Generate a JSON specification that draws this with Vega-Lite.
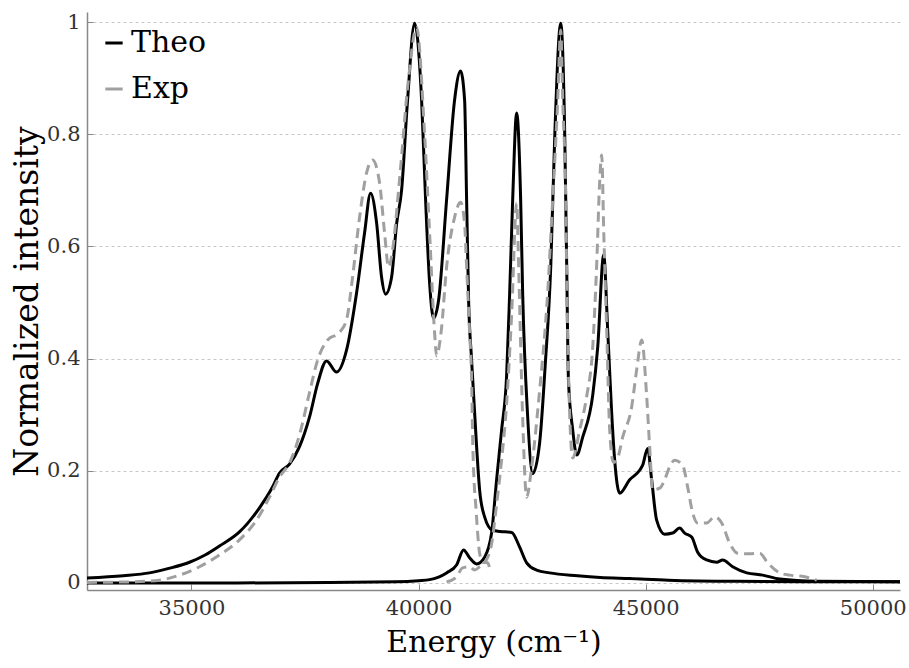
{
  "$schema": "https://vega.github.io/schema/vega-lite/v6.json",
  "width": 813,
  "height": 578,
  "autosize": {"type": "none"},
  "padding": {"left": 87, "top": 12, "right": 9, "bottom": 78},
  "background": "white",
  "config": {
    "view": {"stroke": null},
    "font": "DejaVu Serif"
  },
  "data": {
    "values": [
      {"energy": 32700, "intensity": 0.009, "series": "Theo", "band": "A"},
      {"energy": 33500, "intensity": 0.013, "series": "Theo", "band": "A"},
      {"energy": 34075, "intensity": 0.018, "series": "Theo", "band": "A"},
      {"energy": 34500, "intensity": 0.026, "series": "Theo", "band": "A"},
      {"energy": 34956, "intensity": 0.037, "series": "Theo", "band": "A"},
      {"energy": 35300, "intensity": 0.050, "series": "Theo", "band": "A"},
      {"energy": 35617, "intensity": 0.066, "series": "Theo", "band": "A"},
      {"energy": 36057, "intensity": 0.091, "series": "Theo", "band": "A"},
      {"energy": 36498, "intensity": 0.134, "series": "Theo", "band": "A"},
      {"energy": 36784, "intensity": 0.171, "series": "Theo", "band": "A"},
      {"energy": 36939, "intensity": 0.196, "series": "Theo", "band": "A"},
      {"energy": 37159, "intensity": 0.212, "series": "Theo", "band": "A"},
      {"energy": 37379, "intensity": 0.243, "series": "Theo", "band": "A"},
      {"energy": 37600, "intensity": 0.296, "series": "Theo", "band": "A"},
      {"energy": 37776, "intensity": 0.355, "series": "Theo", "band": "A"},
      {"energy": 37974, "intensity": 0.396, "series": "Theo", "band": "A"},
      {"energy": 38194, "intensity": 0.376, "series": "Theo", "band": "A"},
      {"energy": 38414, "intensity": 0.415, "series": "Theo", "band": "A"},
      {"energy": 38635, "intensity": 0.517, "series": "Theo", "band": "A"},
      {"energy": 38811, "intensity": 0.624, "series": "Theo", "band": "A"},
      {"energy": 38943, "intensity": 0.695, "series": "Theo", "band": "A"},
      {"energy": 39076, "intensity": 0.642, "series": "Theo", "band": "A"},
      {"energy": 39186, "intensity": 0.545, "series": "Theo", "band": "A"},
      {"energy": 39274, "intensity": 0.515, "series": "Theo", "band": "A"},
      {"energy": 39406, "intensity": 0.545, "series": "Theo", "band": "A"},
      {"energy": 39516, "intensity": 0.640, "series": "Theo", "band": "A"},
      {"energy": 39626, "intensity": 0.700, "series": "Theo", "band": "A"},
      {"energy": 39758, "intensity": 0.861, "series": "Theo", "band": "A"},
      {"energy": 39913, "intensity": 0.998, "series": "Theo", "band": "A"},
      {"energy": 40067, "intensity": 0.861, "series": "Theo", "band": "A"},
      {"energy": 40155, "intensity": 0.683, "series": "Theo", "band": "A"},
      {"energy": 40243, "intensity": 0.535, "series": "Theo", "band": "A"},
      {"energy": 40331, "intensity": 0.472, "series": "Theo", "band": "A"},
      {"energy": 40441, "intensity": 0.504, "series": "Theo", "band": "A"},
      {"energy": 40617, "intensity": 0.683, "series": "Theo", "band": "A"},
      {"energy": 40793, "intensity": 0.861, "series": "Theo", "band": "A"},
      {"energy": 40925, "intensity": 0.913, "series": "Theo", "band": "A"},
      {"energy": 41014, "intensity": 0.861, "series": "Theo", "band": "A"},
      {"energy": 41058, "intensity": 0.683, "series": "Theo", "band": "A"},
      {"energy": 41102, "intensity": 0.504, "series": "Theo", "band": "A"},
      {"energy": 41168, "intensity": 0.397, "series": "Theo", "band": "A"},
      {"energy": 41278, "intensity": 0.243, "series": "Theo", "band": "A"},
      {"energy": 41344, "intensity": 0.166, "series": "Theo", "band": "A"},
      {"energy": 41454, "intensity": 0.118, "series": "Theo", "band": "A"},
      {"energy": 41630, "intensity": 0.094, "series": "Theo", "band": "A"},
      {"energy": 41800, "intensity": 0.092, "series": "Theo", "band": "A"},
      {"energy": 42050, "intensity": 0.090, "series": "Theo", "band": "A"},
      {"energy": 42226, "intensity": 0.064, "series": "Theo", "band": "A"},
      {"energy": 42380, "intensity": 0.036, "series": "Theo", "band": "A"},
      {"energy": 42600, "intensity": 0.023, "series": "Theo", "band": "A"},
      {"energy": 42886, "intensity": 0.018, "series": "Theo", "band": "A"},
      {"energy": 43500, "intensity": 0.013, "series": "Theo", "band": "A"},
      {"energy": 44000, "intensity": 0.010, "series": "Theo", "band": "A"},
      {"energy": 44650, "intensity": 0.008, "series": "Theo", "band": "A"},
      {"energy": 45500, "intensity": 0.005, "series": "Theo", "band": "A"},
      {"energy": 47000, "intensity": 0.003, "series": "Theo", "band": "A"},
      {"energy": 50600, "intensity": 0.002, "series": "Theo", "band": "A"},

      {"energy": 32700, "intensity": 0.000, "series": "Theo", "band": "B"},
      {"energy": 36000, "intensity": 0.000, "series": "Theo", "band": "B"},
      {"energy": 38000, "intensity": 0.001, "series": "Theo", "band": "B"},
      {"energy": 39500, "intensity": 0.002, "series": "Theo", "band": "B"},
      {"energy": 40000, "intensity": 0.004, "series": "Theo", "band": "B"},
      {"energy": 40243, "intensity": 0.006, "series": "Theo", "band": "B"},
      {"energy": 40617, "intensity": 0.018, "series": "Theo", "band": "B"},
      {"energy": 40837, "intensity": 0.032, "series": "Theo", "band": "B"},
      {"energy": 40991, "intensity": 0.059, "series": "Theo", "band": "B"},
      {"energy": 41124, "intensity": 0.045, "series": "Theo", "band": "B"},
      {"energy": 41278, "intensity": 0.034, "series": "Theo", "band": "B"},
      {"energy": 41454, "intensity": 0.046, "series": "Theo", "band": "B"},
      {"energy": 41608, "intensity": 0.089, "series": "Theo", "band": "B"},
      {"energy": 41718, "intensity": 0.184, "series": "Theo", "band": "B"},
      {"energy": 41829, "intensity": 0.273, "series": "Theo", "band": "B"},
      {"energy": 41939, "intensity": 0.370, "series": "Theo", "band": "B"},
      {"energy": 42006, "intensity": 0.517, "series": "Theo", "band": "B"},
      {"energy": 42072, "intensity": 0.683, "series": "Theo", "band": "B"},
      {"energy": 42160, "intensity": 0.838, "series": "Theo", "band": "B"},
      {"energy": 42248, "intensity": 0.683, "series": "Theo", "band": "B"},
      {"energy": 42292, "intensity": 0.517, "series": "Theo", "band": "B"},
      {"energy": 42400, "intensity": 0.300, "series": "Theo", "band": "B"},
      {"energy": 42512, "intensity": 0.195, "series": "Theo", "band": "B"},
      {"energy": 42666, "intensity": 0.250, "series": "Theo", "band": "B"},
      {"energy": 42790, "intensity": 0.390, "series": "Theo", "band": "B"},
      {"energy": 42910, "intensity": 0.563, "series": "Theo", "band": "B"},
      {"energy": 43000, "intensity": 0.800, "series": "Theo", "band": "B"},
      {"energy": 43130, "intensity": 0.998, "series": "Theo", "band": "B"},
      {"energy": 43218, "intensity": 0.800, "series": "Theo", "band": "B"},
      {"energy": 43262, "intensity": 0.563, "series": "Theo", "band": "B"},
      {"energy": 43300, "intensity": 0.362, "series": "Theo", "band": "B"},
      {"energy": 43394, "intensity": 0.273, "series": "Theo", "band": "B"},
      {"energy": 43482, "intensity": 0.228, "series": "Theo", "band": "B"},
      {"energy": 43614, "intensity": 0.260, "series": "Theo", "band": "B"},
      {"energy": 43835, "intensity": 0.335, "series": "Theo", "band": "B"},
      {"energy": 43945, "intensity": 0.421, "series": "Theo", "band": "B"},
      {"energy": 44076, "intensity": 0.585, "series": "Theo", "band": "B"},
      {"energy": 44164, "intensity": 0.451, "series": "Theo", "band": "B"},
      {"energy": 44252, "intensity": 0.303, "series": "Theo", "band": "B"},
      {"energy": 44318, "intensity": 0.219, "series": "Theo", "band": "B"},
      {"energy": 44428, "intensity": 0.160, "series": "Theo", "band": "B"},
      {"energy": 44648, "intensity": 0.184, "series": "Theo", "band": "B"},
      {"energy": 44868, "intensity": 0.201, "series": "Theo", "band": "B"},
      {"energy": 44934, "intensity": 0.210, "series": "Theo", "band": "B"},
      {"energy": 45044, "intensity": 0.240, "series": "Theo", "band": "B"},
      {"energy": 45132, "intensity": 0.184, "series": "Theo", "band": "B"},
      {"energy": 45242, "intensity": 0.112, "series": "Theo", "band": "B"},
      {"energy": 45418, "intensity": 0.087, "series": "Theo", "band": "B"},
      {"energy": 45594, "intensity": 0.089, "series": "Theo", "band": "B"},
      {"energy": 45748, "intensity": 0.098, "series": "Theo", "band": "B"},
      {"energy": 45859, "intensity": 0.089, "series": "Theo", "band": "B"},
      {"energy": 46013, "intensity": 0.082, "series": "Theo", "band": "B"},
      {"energy": 46145, "intensity": 0.055, "series": "Theo", "band": "B"},
      {"energy": 46343, "intensity": 0.041, "series": "Theo", "band": "B"},
      {"energy": 46564, "intensity": 0.037, "series": "Theo", "band": "B"},
      {"energy": 46696, "intensity": 0.041, "series": "Theo", "band": "B"},
      {"energy": 46916, "intensity": 0.029, "series": "Theo", "band": "B"},
      {"energy": 47225, "intensity": 0.018, "series": "Theo", "band": "B"},
      {"energy": 47577, "intensity": 0.014, "series": "Theo", "band": "B"},
      {"energy": 47952, "intensity": 0.007, "series": "Theo", "band": "B"},
      {"energy": 48767, "intensity": 0.003, "series": "Theo", "band": "B"},
      {"energy": 50600, "intensity": 0.002, "series": "Theo", "band": "B"},

      {"energy": 32700, "intensity": 0.001, "series": "Exp", "band": "A"},
      {"energy": 33634, "intensity": 0.002, "series": "Exp", "band": "A"},
      {"energy": 34295, "intensity": 0.005, "series": "Exp", "band": "A"},
      {"energy": 34736, "intensity": 0.014, "series": "Exp", "band": "A"},
      {"energy": 35176, "intensity": 0.029, "series": "Exp", "band": "A"},
      {"energy": 35617, "intensity": 0.050, "series": "Exp", "band": "A"},
      {"energy": 36057, "intensity": 0.077, "series": "Exp", "band": "A"},
      {"energy": 36432, "intensity": 0.112, "series": "Exp", "band": "A"},
      {"energy": 36718, "intensity": 0.153, "series": "Exp", "band": "A"},
      {"energy": 36939, "intensity": 0.189, "series": "Exp", "band": "A"},
      {"energy": 37159, "intensity": 0.214, "series": "Exp", "band": "A"},
      {"energy": 37379, "intensity": 0.264, "series": "Exp", "band": "A"},
      {"energy": 37600, "intensity": 0.340, "series": "Exp", "band": "A"},
      {"energy": 37776, "intensity": 0.397, "series": "Exp", "band": "A"},
      {"energy": 37996, "intensity": 0.433, "series": "Exp", "band": "A"},
      {"energy": 38260, "intensity": 0.447, "series": "Exp", "band": "A"},
      {"energy": 38414, "intensity": 0.469, "series": "Exp", "band": "A"},
      {"energy": 38547, "intensity": 0.545, "series": "Exp", "band": "A"},
      {"energy": 38701, "intensity": 0.652, "series": "Exp", "band": "A"},
      {"energy": 38855, "intensity": 0.731, "series": "Exp", "band": "A"},
      {"energy": 38988, "intensity": 0.754, "series": "Exp", "band": "A"},
      {"energy": 39142, "intensity": 0.713, "series": "Exp", "band": "A"},
      {"energy": 39252, "intensity": 0.624, "series": "Exp", "band": "A"},
      {"energy": 39340, "intensity": 0.563, "series": "Exp", "band": "A"},
      {"energy": 39428, "intensity": 0.594, "series": "Exp", "band": "A"},
      {"energy": 39582, "intensity": 0.720, "series": "Exp", "band": "A"},
      {"energy": 39780, "intensity": 0.900, "series": "Exp", "band": "A"},
      {"energy": 39956, "intensity": 0.991, "series": "Exp", "band": "A"},
      {"energy": 40133, "intensity": 0.800, "series": "Exp", "band": "A"},
      {"energy": 40243, "intensity": 0.624, "series": "Exp", "band": "A"},
      {"energy": 40353, "intensity": 0.446, "series": "Exp", "band": "A"},
      {"energy": 40397, "intensity": 0.405, "series": "Exp", "band": "A"},
      {"energy": 40500, "intensity": 0.450, "series": "Exp", "band": "A"},
      {"energy": 40617, "intensity": 0.563, "series": "Exp", "band": "A"},
      {"energy": 40793, "intensity": 0.652, "series": "Exp", "band": "A"},
      {"energy": 40925, "intensity": 0.679, "series": "Exp", "band": "A"},
      {"energy": 41014, "intensity": 0.640, "series": "Exp", "band": "A"},
      {"energy": 41058, "intensity": 0.563, "series": "Exp", "band": "A"},
      {"energy": 41124, "intensity": 0.446, "series": "Exp", "band": "A"},
      {"energy": 41168, "intensity": 0.362, "series": "Exp", "band": "A"},
      {"energy": 41195, "intensity": 0.243, "series": "Exp", "band": "A"},
      {"energy": 41271, "intensity": 0.125, "series": "Exp", "band": "A"},
      {"energy": 41344, "intensity": 0.053, "series": "Exp", "band": "A"},
      {"energy": 41410, "intensity": 0.037, "series": "Exp", "band": "A"},
      {"energy": 41520, "intensity": 0.036, "series": "Exp", "band": "A"},
      {"energy": 41586, "intensity": 0.018, "series": "Exp", "band": "A"},

      {"energy": 40617, "intensity": 0.002, "series": "Exp", "band": "B"},
      {"energy": 40837, "intensity": 0.011, "series": "Exp", "band": "B"},
      {"energy": 40969, "intensity": 0.027, "series": "Exp", "band": "B"},
      {"energy": 41124, "intensity": 0.029, "series": "Exp", "band": "B"},
      {"energy": 41234, "intensity": 0.023, "series": "Exp", "band": "B"},
      {"energy": 41344, "intensity": 0.029, "series": "Exp", "band": "B"},
      {"energy": 41454, "intensity": 0.036, "series": "Exp", "band": "B"},
      {"energy": 41608, "intensity": 0.070, "series": "Exp", "band": "B"},
      {"energy": 41718, "intensity": 0.140, "series": "Exp", "band": "B"},
      {"energy": 41829, "intensity": 0.220, "series": "Exp", "band": "B"},
      {"energy": 41939, "intensity": 0.320, "series": "Exp", "band": "B"},
      {"energy": 42050, "intensity": 0.480, "series": "Exp", "band": "B"},
      {"energy": 42160, "intensity": 0.677, "series": "Exp", "band": "B"},
      {"energy": 42204, "intensity": 0.563, "series": "Exp", "band": "B"},
      {"energy": 42290, "intensity": 0.300, "series": "Exp", "band": "B"},
      {"energy": 42380, "intensity": 0.153, "series": "Exp", "band": "B"},
      {"energy": 42480, "intensity": 0.200, "series": "Exp", "band": "B"},
      {"energy": 42650, "intensity": 0.330, "series": "Exp", "band": "B"},
      {"energy": 42842, "intensity": 0.517, "series": "Exp", "band": "B"},
      {"energy": 42953, "intensity": 0.683, "series": "Exp", "band": "B"},
      {"energy": 43064, "intensity": 0.861, "series": "Exp", "band": "B"},
      {"energy": 43130, "intensity": 0.986, "series": "Exp", "band": "B"},
      {"energy": 43174, "intensity": 0.861, "series": "Exp", "band": "B"},
      {"energy": 43240, "intensity": 0.683, "series": "Exp", "band": "B"},
      {"energy": 43267, "intensity": 0.517, "series": "Exp", "band": "B"},
      {"energy": 43328, "intensity": 0.300, "series": "Exp", "band": "B"},
      {"energy": 43394, "intensity": 0.223, "series": "Exp", "band": "B"},
      {"energy": 43548, "intensity": 0.273, "series": "Exp", "band": "B"},
      {"energy": 43700, "intensity": 0.332, "series": "Exp", "band": "B"},
      {"energy": 43835, "intensity": 0.421, "series": "Exp", "band": "B"},
      {"energy": 43923, "intensity": 0.570, "series": "Exp", "band": "B"},
      {"energy": 43989, "intensity": 0.718, "series": "Exp", "band": "B"},
      {"energy": 44033, "intensity": 0.763, "series": "Exp", "band": "B"},
      {"energy": 44076, "intensity": 0.630, "series": "Exp", "band": "B"},
      {"energy": 44142, "intensity": 0.451, "series": "Exp", "band": "B"},
      {"energy": 44208, "intensity": 0.273, "series": "Exp", "band": "B"},
      {"energy": 44290, "intensity": 0.215, "series": "Exp", "band": "B"},
      {"energy": 44384, "intensity": 0.223, "series": "Exp", "band": "B"},
      {"energy": 44494, "intensity": 0.260, "series": "Exp", "band": "B"},
      {"energy": 44692, "intensity": 0.314, "series": "Exp", "band": "B"},
      {"energy": 44802, "intensity": 0.380, "series": "Exp", "band": "B"},
      {"energy": 44913, "intensity": 0.433, "series": "Exp", "band": "B"},
      {"energy": 45023, "intensity": 0.332, "series": "Exp", "band": "B"},
      {"energy": 45089, "intensity": 0.242, "series": "Exp", "band": "B"},
      {"energy": 45154, "intensity": 0.166, "series": "Exp", "band": "B"},
      {"energy": 45308, "intensity": 0.169, "series": "Exp", "band": "B"},
      {"energy": 45418, "intensity": 0.184, "series": "Exp", "band": "B"},
      {"energy": 45528, "intensity": 0.207, "series": "Exp", "band": "B"},
      {"energy": 45638, "intensity": 0.219, "series": "Exp", "band": "B"},
      {"energy": 45815, "intensity": 0.210, "series": "Exp", "band": "B"},
      {"energy": 45925, "intensity": 0.171, "series": "Exp", "band": "B"},
      {"energy": 46035, "intensity": 0.125, "series": "Exp", "band": "B"},
      {"energy": 46145, "intensity": 0.107, "series": "Exp", "band": "B"},
      {"energy": 46343, "intensity": 0.107, "series": "Exp", "band": "B"},
      {"energy": 46520, "intensity": 0.118, "series": "Exp", "band": "B"},
      {"energy": 46674, "intensity": 0.107, "series": "Exp", "band": "B"},
      {"energy": 46850, "intensity": 0.071, "series": "Exp", "band": "B"},
      {"energy": 47027, "intensity": 0.053, "series": "Exp", "band": "B"},
      {"energy": 47291, "intensity": 0.052, "series": "Exp", "band": "B"},
      {"energy": 47511, "intensity": 0.053, "series": "Exp", "band": "B"},
      {"energy": 47688, "intensity": 0.036, "series": "Exp", "band": "B"},
      {"energy": 47952, "intensity": 0.018, "series": "Exp", "band": "B"},
      {"energy": 48172, "intensity": 0.014, "series": "Exp", "band": "B"},
      {"energy": 48503, "intensity": 0.011, "series": "Exp", "band": "B"},
      {"energy": 48767, "intensity": 0.005, "series": "Exp", "band": "B"}
    ]
  },
  "encoding": {
    "x": {
      "field": "energy",
      "type": "quantitative",
      "scale": {"domain": [32700, 50600], "nice": false, "zero": false},
      "axis": {
        "title": "Energy (cm⁻¹)",
        "values": [35000, 40000, 45000, 50000],
        "format": "d",
        "grid": false,
        "domainColor": "#888888",
        "domainWidth": 1.5,
        "tickColor": "#888888",
        "tickSize": -6,
        "tickWidth": 1,
        "labelFont": "DejaVu Serif",
        "labelFontSize": 21,
        "labelColor": "#333333",
        "labelPadding": 13,
        "titleFont": "DejaVu Serif",
        "titleFontSize": 30,
        "titleFontWeight": "normal",
        "titleColor": "#000000",
        "titlePadding": 9
      }
    },
    "y": {
      "field": "intensity",
      "type": "quantitative",
      "scale": {"domain": [-0.0125, 1.018], "nice": false, "zero": false},
      "axis": {
        "title": "Normalized intensity",
        "values": [0, 0.2, 0.4, 0.6, 0.8, 1],
        "format": ".1~f",
        "grid": true,
        "gridColor": "#c8c8c8",
        "gridDash": [3, 3],
        "gridWidth": 1,
        "domainColor": "#888888",
        "domainWidth": 1.5,
        "tickColor": "#888888",
        "tickSize": -6,
        "tickWidth": 1,
        "labelFont": "DejaVu Serif",
        "labelFontSize": 21,
        "labelColor": "#333333",
        "labelPadding": 13,
        "titleFont": "DejaVu Serif",
        "titleFontSize": 33,
        "titleFontWeight": "normal",
        "titleColor": "#000000",
        "titleX": -43
      }
    },
    "detail": {"field": "band", "type": "nominal"}
  },
  "layer": [
    {
      "transform": [{"filter": "datum.series === 'Theo'"}],
      "mark": {"type": "line", "interpolate": "monotone", "strokeWidth": 3, "clip": true},
      "encoding": {
        "color": {
          "field": "series",
          "type": "nominal",
          "scale": {"domain": ["Theo", "Exp"], "range": ["#000000", "#a0a0a0"]},
          "legend": {
            "title": null,
            "orient": "none",
            "legendX": 12,
            "legendY": 16,
            "symbolType": "stroke",
            "symbolSize": 300,
            "symbolStrokeWidth": 3,
            "labelFont": "DejaVu Serif",
            "labelFontSize": 30,
            "labelColor": "#000000",
            "labelOffset": 2,
            "rowPadding": 16
          }
        }
      }
    },
    {
      "transform": [{"filter": "datum.series === 'Exp'"}],
      "mark": {"type": "line", "interpolate": "monotone", "strokeWidth": 3, "strokeDash": [10, 6], "clip": true},
      "encoding": {
        "color": {
          "field": "series",
          "type": "nominal",
          "legend": null
        }
      }
    }
  ]
}
